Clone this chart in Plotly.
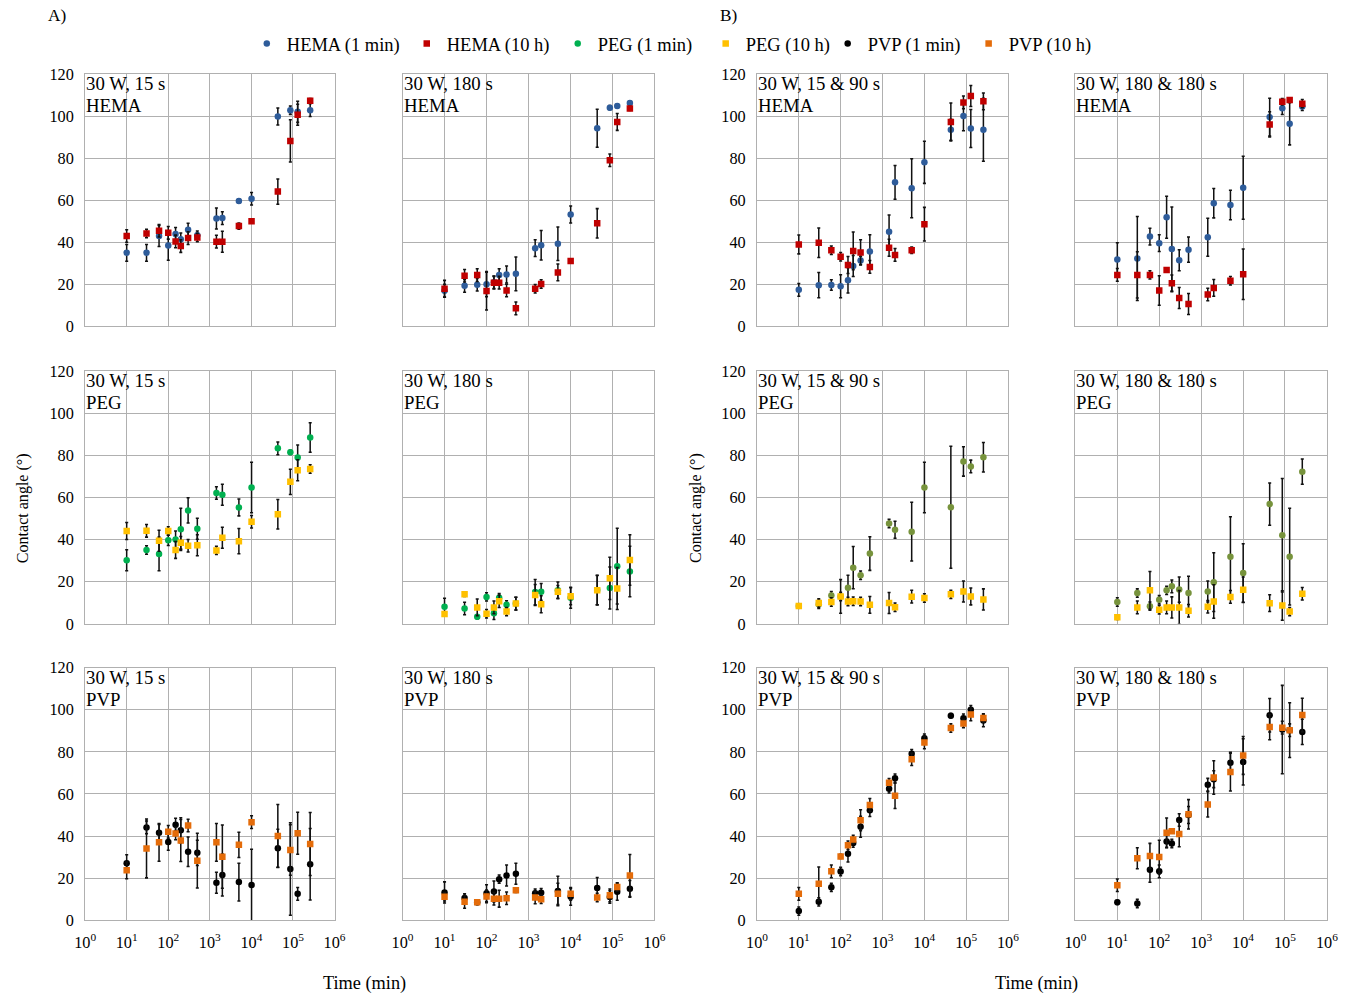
import plotly.graph_objects as go

# ---------------- data ----------------
TIMES = [10, 30, 60, 100, 150, 200, 300, 500, 1440, 2000, 5000, 10080, 43200, 86400, 129600, 259200]

X_TICK_VALUES = [1, 10, 100, 1000, 10000, 100000, 1000000]
X_TICK_LABELS = ["10<sup>0</sup>", "10<sup>1</sup>", "10<sup>2</sup>", "10<sup>3</sup>",
                 "10<sup>4</sup>", "10<sup>5</sup>", "10<sup>6</sup>"]
Y_TICK_VALUES = [0, 20, 40, 60, 80, 100, 120]

TREATMENTS = ["30 W, 15 s", "30 W, 180 s", "30 W, 15 & 90 s", "30 W, 180 & 180 s"]
POLYMERS = ["HEMA", "PEG", "PVP"]

# HEMA
A15_HEMA_1m = [35, 35, 43, 38.5, 44, 41.4, 46, 43.4, 51.3, 51.5, 59.6, 60.7, 99.8, 102.8, 102, 102.8]
A15_HEMA_1m_sd = [4, 4, 5, 7, 3, 3, 3, 2, 5, 3, 1, 3, 4, 2, 5, 3]
A15_HEMA_10h = [43, 44.2, 45.5, 44.5, 40.4, 38.2, 42, 42.3, 40.3, 40.3, 47.7, 50, 64.1, 88.2, 100.6, 107.3]
A15_HEMA_10h_sd = [3, 2, 3, 3, 3, 3, 3, 2, 3, 5, 1.5, 1, 6, 10, 5, 1]

A180_HEMA_1m = [17, 19.3, 19.8, 20.1, 21, 24.4, 24.7, 25, 37.2, 38.6, 39.3, 53.2, 94.2, 104, 104.8, 106.2]
A180_HEMA_1m_sd = [3, 3, 3, 6, 3, 3, 4, 8, 4, 7, 8, 4, 9, 1, 1, 1]
A180_HEMA_10h = [17.9, 24.1, 24.4, 16.8, 20.8, 20.8, 17.1, 8.6, 17.9, 20.2, 25.7, 31.1, 49, 79, 97.2, 103.6]
A180_HEMA_10h_sd = [4, 3, 3, 9, 3, 3, 3, 3, 2, 2, 4, 1, 7, 3, 4, 1]

B15_HEMA_1m = [17.4, 19.6, 19.7, 19.1, 21.9, 28.7, 31.4, 35.6, 45, 68.5, 65.7, 78, 93.5, 100, 94.1, 93.5]
B15_HEMA_1m_sd = [3, 6, 2.5, 5.5, 6, 5, 2, 8, 8, 8, 14, 10, 5, 7, 9, 15]
B15_HEMA_10h = [39, 39.8, 36.2, 33.1, 29.2, 35.9, 35.2, 28.3, 37.4, 34, 36.2, 48.6, 97.2, 106.5, 109.5, 107]
B15_HEMA_10h_sd = [4.5, 7, 2, 2, 4, 9, 6, 3, 4, 3, 1.5, 8, 9, 3, 5, 4]

B180_HEMA_1m = [31.8, 32.3, 42.7, 39.6, 51.9, 36.8, 31.5, 36.5, 42.4, 58.6, 57.7, 65.9, 99.5, 103.7, 96.3, 104.6]
B180_HEMA_1m_sd = [8, 20, 4, 4, 10, 20, 5, 6, 9, 7, 7, 15, 9, 3, 10, 2]
B180_HEMA_10h = [24.5, 24.5, 24.5, 17.1, 26.8, 20.5, 13.5, 10.7, 15.2, 18.3, 21.7, 24.8, 96, 106.8, 107.6, 105.9]
B180_HEMA_10h_sd = [3, 11, 2, 7, 1, 4, 5, 5, 3, 4, 2, 12, 6, 1.5, 1, 2]

# PEG
A15_PEG_1m = [30.2, 35.1, 33.2, 39.7, 40.1, 44.9, 53.9, 45.2, 62.2, 61.3, 55.3, 64.8, 83.4, 81.5, 79, 88.6]
A15_PEG_1m_sd = [5, 2, 8, 2.5, 4, 10, 6, 5, 3, 5, 4, 12, 3, 1, 6, 7]
A15_PEG_10h = [44.1, 44.2, 39.5, 44.1, 35.1, 38.5, 37.1, 37.3, 34.9, 40.9, 39.3, 48.5, 52.1, 67.5, 73, 73.6]
A15_PEG_10h_sd = [4, 3, 5, 2, 4, 3, 3, 5, 2, 5, 6, 3, 7, 6, 5, 2]

A180_PEG_1m = [8.1, 7.3, 3.3, 12.8, 5.0, 12.4, 9, 9.6, 15.1, 15.2, 15.9, 12.4, 16.1, 17, 27.4, 24.9]
A180_PEG_1m_sd = [4, 3, 1, 2, 3, 2, 2, 3, 6, 4, 4, 5, 7, 10, 18, 12]
A180_PEG_10h = [4.7, 14.0, 7.8, 4.8, 7.8, 10.7, 5.8, 9.6, 13.7, 9.3, 15.2, 13.1, 16, 21.6, 16.8, 30.3]
A180_PEG_10h_sd = [1, 1, 4, 2, 3, 3, 2, 3, 5, 4, 3, 4, 7, 10, 10, 12]

B15_PEG_1m = [8.5, 9.3, 13.4, 13, 17.1, 26.7, 23.1, 33.4, 47.7, 44.7, 43.8, 64.8, 55.4, 77.2, 74.8, 79.2]
B15_PEG_1m_sd = [1, 2, 2, 2, 6, 10, 2, 8, 2, 4, 14, 12, 29, 7, 3, 7]
B15_PEG_10h = [8.5, 9.9, 10.4, 13, 10.6, 10.7, 10.6, 9, 9.9, 7.9, 12.9, 12.3, 14, 15.4, 13, 11.6]
B15_PEG_10h_sd = [1, 2, 2, 8, 2, 2, 2, 4, 5, 2, 3, 2, 2, 5, 4, 5]

B180_PEG_1m = [10.4, 14.6, 8.4, 11.4, 15.9, 17.8, 16.3, 14.6, 15.4, 19.8, 31.9, 24.1, 56.9, 42.1, 31.9, 72.3]
B180_PEG_1m_sd = [2, 2, 2, 2, 2, 3, 6, 8, 5, 14, 19, 14, 10, 27, 23, 6]
B180_PEG_10h = [3.1, 7.8, 15.9, 6.7, 7.8, 7.8, 7.8, 6.2, 8.1, 10.6, 12.8, 16.2, 9.8, 8.7, 5.8, 14.3]
B180_PEG_10h_sd = [1, 3, 9, 2, 3, 5, 8, 3, 3, 8, 3, 6, 4, 7, 2, 3]

# PVP
A15_PVP_1m = [27.1, 44.1, 41.5, 37.2, 45.4, 42.7, 32.5, 32, 17.8, 21.5, 18.1, 16.7, 34.2, 24.3, 12.5, 26.6]
A15_PVP_1m_sd = [4, 3, 4, 4, 3, 6, 7, 6, 5, 10, 9, 17, 9, 22, 3, 17]
A15_PVP_10h = [23.7, 34.1, 37, 42, 41.2, 37.9, 45, 28.3, 37, 30.2, 35.8, 46.6, 40, 33.4, 41.3, 36.2]
A15_PVP_10h_sd = [4, 14, 9, 3, 3, 10, 3, 13, 9, 15, 6, 3, 15, 12, 10, 15]

A180_PVP_1m = [13.2, 10.5, 8.5, 12.8, 13.6, 19.5, 21.2, 22.1, 12.8, 13, 13.9, 11.1, 15.3, 11, 13.5, 14.9]
A180_PVP_1m_sd = [5, 2, 1, 4, 5, 2, 5, 5, 2, 2, 7, 4, 5, 3, 4, 4]
A180_PVP_10h = [11.1, 8.7, 8.5, 11.3, 10.2, 10.2, 10.4, 14.2, 10.8, 9.9, 12.5, 12.5, 10.8, 11.8, 15.8, 21.2]
A180_PVP_10h_sd = [2, 3, 1, 3, 3, 4, 3, 1, 3, 2, 5, 3, 2, 3, 2, 10]

B15_PVP_1m = [4.3, 8.7, 15.6, 23.1, 31.6, 36.7, 44.4, 52.3, 62.5, 67.5, 79.1, 86.5, 97.2, 96, 100, 94.9]
B15_PVP_1m_sd = [2, 2, 2, 2, 4, 2, 5, 3, 2, 2, 2, 2, 1, 2, 2, 3]
B15_PVP_10h = [12.5, 17.3, 23.2, 30.3, 35.6, 38.3, 47.5, 54.8, 65.3, 59.1, 76.5, 84.5, 91.3, 93.5, 97.8, 96.1]
B15_PVP_10h_sd = [3, 8, 3, 1, 2, 2, 5, 3, 2, 6, 3, 3, 2, 2, 3, 2]

B180_PVP_1m = [8.5, 7.9, 24, 23.2, 37.4, 36.4, 47.6, 50, 64.4, 67, 74.8, 75.2, 97.4, 90.6, 90.3, 89.5]
B180_PVP_1m_sd = [1, 2, 6, 3, 3, 2, 3, 4, 3, 4, 5, 11, 8, 21, 13, 6]
B180_PVP_10h = [16.6, 29.4, 30.5, 30, 41.6, 42.3, 40.9, 50.3, 55, 67.8, 70.4, 78.3, 91.8, 91.5, 90.3, 97.5]
B180_PVP_10h_sd = [3, 5, 6, 8, 7, 1, 6, 7, 6, 8, 9, 9, 6, 3, 3, 8]

# panel grid: rows = polymers, cols = treatments
SERIES = [
    [(A15_HEMA_1m, A15_HEMA_1m_sd, A15_HEMA_10h, A15_HEMA_10h_sd),
     (A180_HEMA_1m, A180_HEMA_1m_sd, A180_HEMA_10h, A180_HEMA_10h_sd),
     (B15_HEMA_1m, B15_HEMA_1m_sd, B15_HEMA_10h, B15_HEMA_10h_sd),
     (B180_HEMA_1m, B180_HEMA_1m_sd, B180_HEMA_10h, B180_HEMA_10h_sd)],
    [(A15_PEG_1m, A15_PEG_1m_sd, A15_PEG_10h, A15_PEG_10h_sd),
     (A180_PEG_1m, A180_PEG_1m_sd, A180_PEG_10h, A180_PEG_10h_sd),
     (B15_PEG_1m, B15_PEG_1m_sd, B15_PEG_10h, B15_PEG_10h_sd),
     (B180_PEG_1m, B180_PEG_1m_sd, B180_PEG_10h, B180_PEG_10h_sd)],
    [(A15_PVP_1m, A15_PVP_1m_sd, A15_PVP_10h, A15_PVP_10h_sd),
     (A180_PVP_1m, A180_PVP_1m_sd, A180_PVP_10h, A180_PVP_10h_sd),
     (B15_PVP_1m, B15_PVP_1m_sd, B15_PVP_10h, B15_PVP_10h_sd),
     (B180_PVP_1m, B180_PVP_1m_sd, B180_PVP_10h, B180_PVP_10h_sd)],
]

# ---------------- styling / geometry ----------------
# The captured page is shrunk by ~0.984 to fit the window, and the plot div
# sits inside the default 8 px body margin; geometry below is written in
# target-picture pixels and converted to figure pixels.
S = 0.984
BODY_MARGIN = 8
W, H = 1358, 994
FONT = "Liberation Serif, Times New Roman, serif"
GRID = "#b0b0b0"
COLORS_1M = ["#2e5c9a", "#00b050", "#000000"]
COLORS_1M_B = ["#2e5c9a", "#77933c", "#000000"]
COLORS_10H = ["#c00000", "#ffc000", "#e46c0a"]

COL_PX = [(82, 331.5), (399.5, 651.5), (754, 1005), (1072.5, 1324)]
ROW_PX = [(74, 327), (372, 625), (669, 922)]
LEGEND_TEXT_X = [287, 447, 598, 746, 868, 1009]


def fx(px):
    return (px / S - BODY_MARGIN) / W


def fy(py):
    return 1 - (py / S - BODY_MARGIN) / H


def fs(size):
    return size / S


fig = go.Figure()
layout = {}

for r in range(3):
    for c in range(4):
        k = r * 4 + c + 1
        xa = "x" if k == 1 else f"x{k}"
        ya = "y" if k == 1 else f"y{k}"
        v1, s1, v2, s2 = SERIES[r][c]
        c1 = COLORS_1M[r] if c < 2 else COLORS_1M_B[r]
        show = (c == 0)
        for idx, (vals, sds, color, symbol, label) in enumerate((
                (v1, s1, c1, "circle", "1 min"),
                (v2, s2, COLORS_10H[r], "square", "10 h"))):
            li = r * 2 + idx + 1
            fig.add_trace(go.Scatter(
                x=TIMES, y=vals, mode="markers", xaxis=xa, yaxis=ya,
                name=f"{POLYMERS[r]} ({label})", showlegend=show,
                legend="legend" if li == 1 else f"legend{li}",
                marker=dict(symbol=symbol, size=fs(6.4), color=color),
                error_y=dict(type="data", array=sds, visible=True, color="#111111",
                             thickness=fs(1.5), width=fs(1.5)),
            ))
        x0, x1 = COL_PX[c]
        y0, y1 = ROW_PX[r]
        xkey = "xaxis" if k == 1 else f"xaxis{k}"
        ykey = "yaxis" if k == 1 else f"yaxis{k}"
        layout[xkey] = dict(
            type="log", range=[0, 6], domain=[fx(x0), fx(x1)], anchor=ya,
            tickvals=X_TICK_VALUES, ticktext=X_TICK_LABELS,
            showticklabels=(r == 2), showgrid=True, gridcolor=GRID, gridwidth=1,
            showline=True, linecolor=GRID, linewidth=1, mirror=True,
            zeroline=False, ticks="", ticklabelstandoff=7,
            tickfont=dict(family=FONT, size=fs(16), color="#000"),
        )
        layout[ykey] = dict(
            range=[0, 120], domain=[fy(y1), fy(y0)], anchor=xa,
            tickvals=Y_TICK_VALUES, showticklabels=(c in (0, 2)),
            showgrid=True, gridcolor=GRID, gridwidth=1,
            showline=True, linecolor=GRID, linewidth=1, mirror=True,
            zeroline=False, ticks="", ticklabelstandoff=7,
            tickfont=dict(family=FONT, size=fs(16), color="#000"),
        )

# panel labels: one two-line text each; the base size sets the line spacing
# (kept just wide enough that the two lines do not collide), the spans carry
# the visible glyph size
TITLE_SIZE = fs(18.5)
annotations = []
for r in range(3):
    for c in range(4):
        k = r * 4 + c + 1
        xa = "x" if k == 1 else f"x{k}"
        ya = "y" if k == 1 else f"y{k}"
        span = f"<span style='font-size:{TITLE_SIZE:.2f}px'>"
        annotations.append(dict(
            xref=f"{xa} domain", yref=f"{ya} domain", x=0.0, y=1.0,
            xanchor="left", yanchor="top", align="left", showarrow=False,
            text=f"{span}{TREATMENTS[c]}</span><br>{span}{POLYMERS[r]}</span>",
            xshift=-1, yshift=3,
            font=dict(family=FONT, size=fs(16.3), color="#000"),
        ))


def ann(x_px, y_px, text, size=17, angle=0):
    return dict(xref="paper", yref="paper", x=fx(x_px), y=fy(y_px),
                xanchor="center", yanchor="middle", showarrow=False, text=text,
                textangle=angle, font=dict(family=FONT, size=fs(size), color="#000"))


annotations += [
    ann(54, 15, "A)"),
    ann(726, 15, "B)"),
    ann(20, 509, "Contact angle (°)", 15.8, -90),
    ann(693, 509, "Contact angle (°)", 15.8, -90),
    ann(361, 985, "Time (min)", 18),
    ann(1034, 985, "Time (min)", 18),
]

# one single-entry legend per series, placed like the reference legend row
for i, tx in enumerate(LEGEND_TEXT_X):
    key = "legend" if i == 0 else f"legend{i + 1}"
    layout[key] = dict(
        orientation="h", x=(tx / S - BODY_MARGIN - 44) / W, y=fy(44),
        xanchor="left", yanchor="middle", itemwidth=30,
        font=dict(family=FONT, size=fs(18.2), color="#000"),
        bgcolor="rgba(0,0,0,0)",
    )

fig.update_layout(
    width=W, height=H, margin=dict(l=0, r=0, t=0, b=0),
    paper_bgcolor="white", plot_bgcolor="white",
    font=dict(family=FONT, size=fs(16), color="#000"),
    showlegend=True,
    annotations=annotations,
    **layout,
)

fig.write_html("out.html")
